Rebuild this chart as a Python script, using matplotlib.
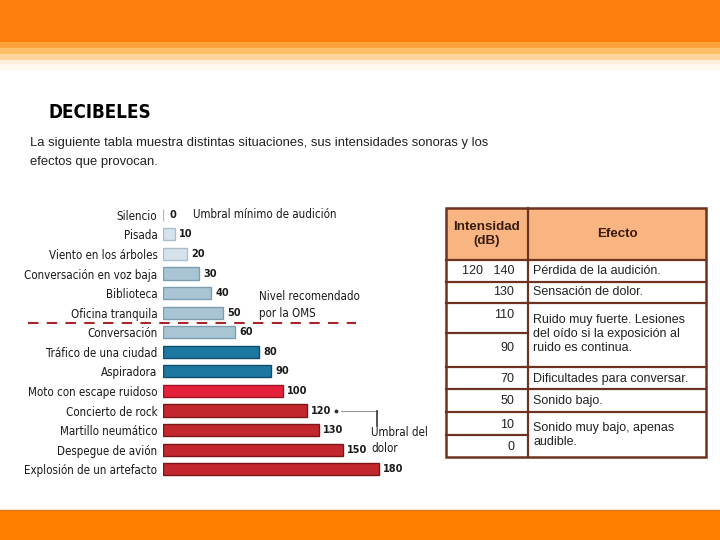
import matplotlib.pyplot as plt
from matplotlib.patches import Rectangle

# ---------------- datos ----------------
situaciones = [
    "Silencio", "Pisada", "Viento en los árboles", "Conversación en voz baja",
    "Biblioteca", "Oficina tranquila", "Conversación", "Tráfico de una ciudad",
    "Aspiradora", "Moto con escape ruidoso", "Concierto de rock",
    "Martillo neumático", "Despegue de avión", "Explosión de un artefacto",
]
decibeles = [0, 10, 20, 30, 40, 50, 60, 80, 90, 100, 120, 130, 150, 180]
grupo = [0, 0, 0, 1, 1, 1, 1, 2, 2, 3, 4, 4, 4, 4]

tabla_intensidad = ["120   140", "130", "110", "90", "70", "50", "10", "0"]
tabla_efecto = [
    "Pérdida de la audición.",
    "Sensación de dolor.",
    "Ruido muy fuerte. Lesiones\ndel oído si la exposición al\nruido es continua.",
    "Dificultades para conversar.",
    "Sonido bajo.",
    "Sonido muy bajo, apenas\naudible.",
]

# colores por grupo (relleno, borde)
relleno = ["#d6e3eb", "#a9c5d4", "#1c78a1", "#e5203a", "#c1272d"]
borde = ["#aabfcc", "#7d9db0", "#0e4d6b", "#9c1424", "#7c1518"]

COND = dict(family=["DejaVu Sans"], fontstretch="condensed")
SANS = ["Liberation Sans", "DejaVu Sans"]

fig = plt.figure(figsize=(7.2, 5.4), dpi=100)

# capa de fondo en coordenadas de pixel
bg = fig.add_axes([0, 0, 1, 1])
bg.set_xlim(0, 720)
bg.set_ylim(540, 0)
bg.axis("off")

# banda superior naranja con degradado
bg.add_patch(Rectangle((0, 0), 720, 42, color="#ff7f0c", lw=0))
for y0, c in [(42, "#ffa23c"), (48, "#ffbf66"), (54, "#ffd6a0"), (60, "#ffeedb"), (64, "#fff8ef")]:
    bg.add_patch(Rectangle((0, y0), 720, 6, color=c, lw=0))
# banda inferior
bg.add_patch(Rectangle((0, 510), 720, 30, color="#ff8000", lw=0))
bg.plot([0, 720], [510, 510], color="#e07a20", lw=1)

# titulo y texto
bg.text(48, 113, "DECIBELES", fontsize=13.5, fontweight="bold", va="center", ha="left",
        color="black", **COND)
bg.text(30, 143, "La siguiente tabla muestra distintas situaciones, sus intensidades sonoras y los",
        fontsize=9.4, family=SANS, va="center", color="#222222")
bg.text(30, 162, "efectos que provocan.", fontsize=9.4, family=SANS, va="center", color="#222222")

# ---------------- grafico de barras ----------------
ax = fig.add_axes([163 / 720, (540 - 479) / 540, 240 / 720, 274 / 540])
ax.patch.set_alpha(0)
pos = list(range(len(situaciones)))
ax.barh(pos, decibeles, height=0.62,
        color=[relleno[g] for g in grupo],
        edgecolor=[borde[g] for g in grupo], linewidth=1)
for p, v in zip(pos, decibeles):
    ax.annotate(str(v), (v, p), xytext=(3 if v else 5, 0), textcoords="offset points",
                va="center", ha="left", fontsize=7.8, fontweight="bold", color="#1a1a1a",
                **COND)
ax.set_xlim(0, 200)
ax.set_ylim(len(situaciones) - 0.5, -0.5)
ax.set_yticks(pos)
ax.set_yticklabels(situaciones, fontsize=8.3, color="#1a1a1a", **COND)
ax.tick_params(axis="y", length=0, pad=4)
ax.set_xticks([])
for s in ax.spines.values():
    s.set_visible(False)

# anotaciones
bg.text(193, 215, "Umbral mínimo de audición", fontsize=8.3, va="center", color="#1a1a1a", **COND)
bg.text(259, 297, "Nivel recomendado", fontsize=8.3, va="center", color="#1a1a1a", **COND)
bg.text(259, 313, "por la OMS", fontsize=8.3, va="center", color="#1a1a1a", **COND)
bg.plot([28, 356], [323, 323], color="#a8262b", lw=1.5, dashes=(5, 4))

bg.plot([336], [411], marker="o", ms=1.8, color="#333333")
bg.plot([341, 377], [411, 411], color="#999999", lw=0.8)
bg.plot([377, 377], [411, 426], color="#333333", lw=1.2)
bg.text(371, 432, "Umbral del", fontsize=8.3, va="center", color="#1a1a1a", **COND)
bg.text(371, 448, "dolor", fontsize=8.3, va="center", color="#1a1a1a", **COND)

# ---------------- tabla ----------------
x0, xm, x1 = 446, 528, 706
y_top, y_head = 208, 260
marron = "#6e3220"
bg.add_patch(Rectangle((x0, y_top), x1 - x0, y_head - y_top, facecolor="#f8b582",
                       edgecolor="none"))
bg.text((x0 + xm) / 2, 234, "Intensidad\n(dB)", ha="center", va="center", fontsize=9.6,
        fontweight="bold", family=SANS, color="#3a1c10", linespacing=1.15)
bg.text((xm + x1) / 2, 234, "Efecto", ha="center", va="center", fontsize=9.6,
        fontweight="bold", family=SANS, color="#3a1c10")

y_int = [271, 292, 315, 348, 379, 401, 425, 447]
for y, t in zip(y_int, tabla_intensidad):
    bg.text(514, y, t, ha="right", va="center", fontsize=9, family=SANS, color="#222222")
y_ef = [271, 292, 334, 379, 401, 435]
for y, t in zip(y_ef, tabla_efecto):
    bg.text(533, y, t, ha="left", va="center", fontsize=9, family=SANS, color="#222222",
            linespacing=1.25)

# lineas de la tabla
for y in [y_head, 282, 303, 367, 389, 412]:
    bg.plot([x0, x1], [y, y], color=marron, lw=1.6)
for y in [333, 435]:
    bg.plot([x0, xm], [y, y], color=marron, lw=1.6)
bg.add_patch(Rectangle((x0, y_top), x1 - x0, 457 - y_top, fill=False, edgecolor=marron, lw=1.8))
bg.plot([xm, xm], [y_top, 457], color=marron, lw=1.6)

fig.savefig("out.png", dpi=100, facecolor="white")
